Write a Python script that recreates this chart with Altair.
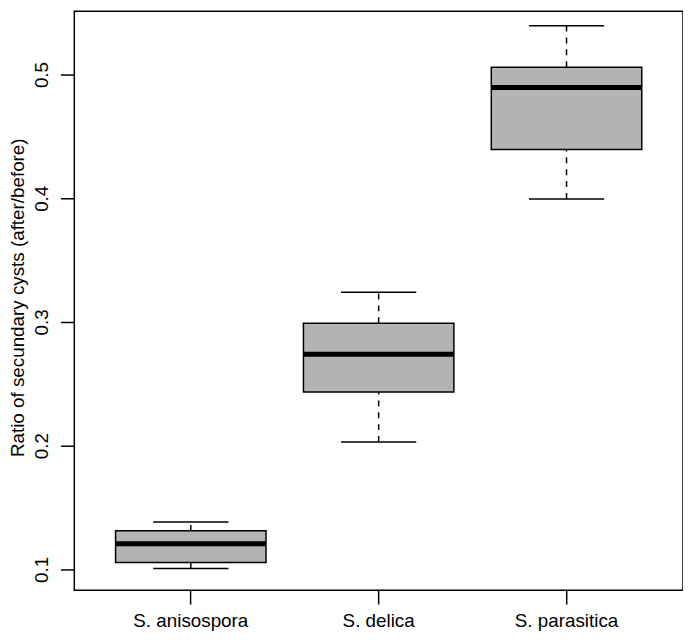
import altair as alt
import pandas as pd

species = ["S. anisospora", "S. delica", "S. parasitica"]
lower_whisker = [0.1008, 0.2030, 0.3995]
q1 = [0.1056, 0.2434, 0.4395]
median = [0.1208, 0.2739, 0.4896]
q3 = [0.1312, 0.2990, 0.5060]
upper_whisker = [0.1384, 0.3240, 0.5394]

df = pd.DataFrame({
    "species": species,
    "lower": lower_whisker,
    "q1": q1,
    "median": median,
    "q3": q3,
    "upper": upper_whisker,
})

FONT = "Liberation Sans"

x = alt.X(
    "species:N",
    sort=species,
    scale=alt.Scale(paddingInner=0, paddingOuter=0.12),
    axis=alt.Axis(
        title=None, labelAngle=0, labelFontSize=19, labelFont=FONT,
        labelColor="black", tickSize=14, tickWidth=1.5, tickColor="black",
        labelPadding=23, labelBaseline="alphabetic", domain=False, grid=False,
    ),
)
yscale = alt.Scale(domain=[0.0832, 0.5512], nice=False, zero=False)
y_axis = alt.Axis(
    title="Ratio of secundary cysts (after/before)",
    values=[0.1, 0.2, 0.3, 0.4, 0.5], format=".1f",
    labelAngle=270, labelAlign="center", labelBaseline="alphabetic",
    labelFontSize=19, labelFont=FONT, labelColor="black", labelPadding=13,
    tickSize=14, tickWidth=1.5, tickColor="black", domain=False, grid=False,
    titleFontSize=19, titleFont=FONT, titleFontWeight="normal", titleColor="black",
    titleAngle=270, titleAlign="center", titleBaseline="alphabetic",
    titleX=-51, titleY=289,
)

base = alt.Chart(df)

whisk_hi = base.mark_rule(color="black", strokeWidth=1.5, strokeDash=[6, 6], opacity=1).encode(
    x=x, y=alt.Y("q3:Q", scale=yscale, axis=y_axis), y2="upper:Q")
whisk_lo = base.mark_rule(color="black", strokeWidth=1.5, strokeDash=[6, 6], opacity=1).encode(
    x=x, y=alt.Y("lower:Q", scale=yscale), y2="q1:Q")
cap_hi = base.mark_tick(color="black", size=76, thickness=1.5, opacity=1).encode(
    x=x, y=alt.Y("upper:Q", scale=yscale))
cap_lo = base.mark_tick(color="black", size=76, thickness=1.5, opacity=1).encode(
    x=x, y=alt.Y("lower:Q", scale=yscale))
box = base.mark_bar(width=152, fill="#b3b3b3", stroke="black", strokeWidth=1.5,
                    opacity=1).encode(
    x=x, y=alt.Y("q1:Q", scale=yscale), y2="q3:Q")
med = base.mark_tick(color="black", size=152, thickness=5, opacity=1).encode(
    x=x, y=alt.Y("median:Q", scale=yscale))

chart = alt.layer(whisk_hi, whisk_lo, cap_hi, cap_lo, box, med).properties(
    width=615, height=585,
    autosize=alt.AutoSizeParams(type="none"),
    padding={"left": 67, "top": 0, "right": 0, "bottom": 41},
    background="white",
).configure_view(stroke="black", strokeWidth=1.5, fill="white")

chart.save("out.html", embed_options={"renderer": "svg", "actions": False})
